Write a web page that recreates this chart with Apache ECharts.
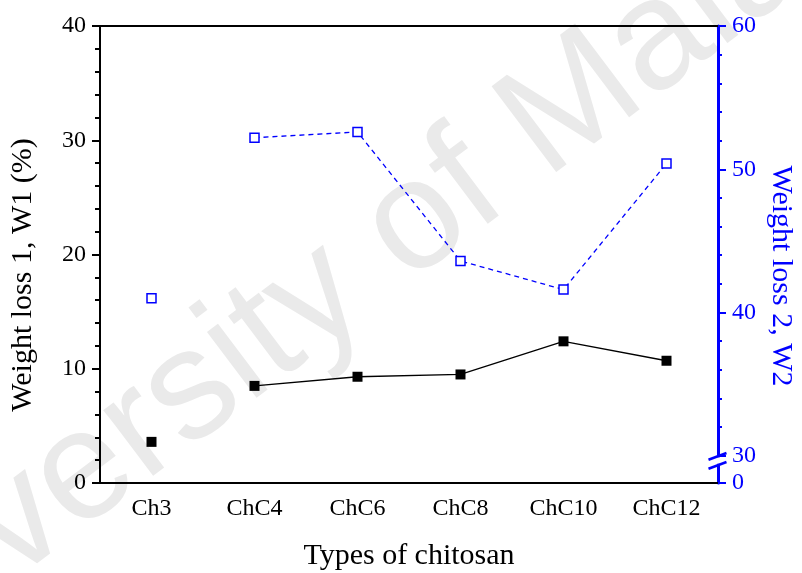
<!DOCTYPE html>
<html>
<head>
<meta charset="utf-8">
<script src="https://cdn.jsdelivr.net/npm/echarts@6/dist/echarts.min.js"></script>
<style>
  html, body { margin: 0; padding: 0; background: #fff; }
  #chart { width: 802px; height: 573px; }
</style>
</head>
<body>
<div id="chart"></div>
<script>
// Thermal weight-loss steps of the chitosan samples
const categories = ['Ch3', 'ChC4', 'ChC6', 'ChC8', 'ChC10', 'ChC12'];
const weightLoss1 = [3.6, 8.5, 9.3, 9.5, 12.4, 10.7];      // W1 (%), left axis
const weightLoss2 = [41.0, 52.2, 52.6, 43.6, 41.6, 50.4];  // W2, right axis
const leftTickValues = [0, 10, 20, 30, 40];
const rightTickValues = [30, 40, 50, 60];
const rightTickLabels = ['0', '30', '40', '50', '60'];     // first label sits at the broken bottom end
const rightMinorTicks = [32, 34, 36, 38, 42, 44, 46, 48, 52, 54, 56, 58];

const BLUE = '#0000ff';
const SERIF = '"Liberation Serif", "Times New Roman", serif';
const RIGHT_MIN = 28.1;  // bottom of the broken right scale

// Ch3 is plotted on its own; the lines join ChC4..ChC12 only
const joined = arr => arr.map((v, i) => (i === 0 ? '-' : v));

const chart = echarts.init(document.getElementById('chart'), null, { renderer: 'canvas' });

const option = {
  animation: false,
  backgroundColor: '#ffffff',
  grid: { left: 100, right: 84, top: 26, bottom: 90, containLabel: false },
  xAxis: [
    {
      type: 'category', data: categories, position: 'bottom', boundaryGap: true,
      axisLine: { lineStyle: { color: '#000', width: 2 } },
      axisTick: { alignWithLabel: true, inside: false, length: 7, lineStyle: { color: '#000', width: 2 } },
      axisLabel: { color: '#000', fontFamily: SERIF, fontSize: 24, margin: 14 },
      splitLine: { show: false }
    },
    {
      type: 'category', data: categories, position: 'top', boundaryGap: true,
      axisLine: { lineStyle: { color: '#000', width: 2 } },
      axisTick: { alignWithLabel: true, inside: true, length: 7, lineStyle: { color: '#000', width: 2 } },
      axisLabel: { show: false },
      splitLine: { show: false }
    }
  ],
  yAxis: [
    {
      type: 'value', position: 'left', min: 0, max: 40, interval: 10,
      axisLine: { show: true, lineStyle: { color: '#000', width: 2 } },
      axisTick: { show: true, length: 8, lineStyle: { color: '#000', width: 2 } },
      minorTick: { show: true, splitNumber: 5, length: 5, lineStyle: { color: '#000', width: 2 } },
      axisLabel: {
        color: '#000', fontFamily: SERIF, fontSize: 24, margin: 14,
        customValues: leftTickValues
      },
      splitLine: { show: false }
    },
    {
      type: 'value', position: 'right', min: RIGHT_MIN, max: 60,
      axisLine: { show: true, lineStyle: { color: BLUE, width: 3 } },
      axisTick: {
        show: true, length: 8, lineStyle: { color: BLUE, width: 2 },
        customValues: [RIGHT_MIN].concat(rightTickValues)
      },
      axisLabel: {
        color: BLUE, fontFamily: SERIF, fontSize: 24, margin: 14,
        customValues: [RIGHT_MIN].concat(rightTickValues),
        formatter: v => (v < rightTickValues[0] ? rightTickLabels[0]
          : rightTickLabels[rightTickValues.indexOf(v) + 1])
      },
      splitLine: { show: false }
    },
    {
      // minor ticks of the right scale
      type: 'value', position: 'right', min: RIGHT_MIN, max: 60,
      axisLine: { show: false },
      axisTick: { show: true, length: 4, lineStyle: { color: BLUE, width: 2 }, customValues: rightMinorTicks },
      axisLabel: { show: false },
      splitLine: { show: false }
    }
  ],
  series: [
    {
      name: 'W1 line', type: 'line', xAxisIndex: 0, yAxisIndex: 0,
      data: joined(weightLoss1), showSymbol: false, symbol: 'none',
      lineStyle: { color: '#000', width: 1.3 }, z: 3
    },
    {
      name: 'W1', type: 'line', xAxisIndex: 0, yAxisIndex: 0,
      data: weightLoss1, symbol: 'rect', symbolSize: 10,
      itemStyle: { color: '#000' }, lineStyle: { width: 0, opacity: 0 }, z: 4
    },
    {
      name: 'W2 line', type: 'line', xAxisIndex: 0, yAxisIndex: 1,
      data: joined(weightLoss2), showSymbol: false, symbol: 'none',
      lineStyle: { color: BLUE, width: 1.3, type: [5, 4] }, z: 3
    },
    {
      name: 'W2', type: 'line', xAxisIndex: 0, yAxisIndex: 1,
      data: weightLoss2, symbol: 'rect', symbolSize: 9,
      itemStyle: { color: '#fff', borderColor: BLUE, borderWidth: 1.5 },
      lineStyle: { width: 0, opacity: 0 }, z: 4
    }
  ]
};

chart.setOption(option);

// Axis titles, break marks on the right scale and the page watermark
const rightX = 718;
const y30 = chart.convertToPixel({ yAxisIndex: 1 }, rightTickValues[0]);

chart.setOption({
  graphic: [
    {
      type: 'text', x: -200, y: 688, rotation: 37 * Math.PI / 180, z: -10, silent: true,
      style: {
        text: 'University of Malaya', fill: '#eaeaea',
        font: '156px "Liberation Sans", Arial, sans-serif',
        align: 'left', verticalAlign: 'middle'
      }
    },
    {
      type: 'text', x: 23, y: 275, rotation: Math.PI / 2,
      style: { text: 'Weight loss 1, W1 (%)', fill: '#000', font: '30px ' + SERIF, align: 'center', verticalAlign: 'middle' }
    },
    {
      type: 'text', x: 781, y: 276, rotation: -Math.PI / 2,
      style: { text: 'Weight loss 2, W2', fill: BLUE, font: '30px ' + SERIF, align: 'center', verticalAlign: 'middle' }
    },
    {
      type: 'text', x: 409, y: 556,
      style: { text: 'Types of chitosan', fill: '#000', font: '30px ' + SERIF, align: 'center', verticalAlign: 'middle' }
    },
    {
      type: 'rect', z: 50, silent: true,
      shape: { x: rightX - 3, y: y30 + 1.5, width: 6, height: 6.5 },
      style: { fill: '#fff' }
    },
    {
      type: 'line', z: 51, silent: true,
      shape: { x1: rightX - 9.5, y1: y30 + 4, x2: rightX + 8.5, y2: y30 - 2.8 },
      style: { stroke: BLUE, lineWidth: 2.5 }
    },
    {
      type: 'line', z: 51, silent: true,
      shape: { x1: rightX - 9.5, y1: y30 + 13, x2: rightX + 8.5, y2: y30 + 6.2 },
      style: { stroke: BLUE, lineWidth: 2.5 }
    }
  ]
});
</script>
</body>
</html>
